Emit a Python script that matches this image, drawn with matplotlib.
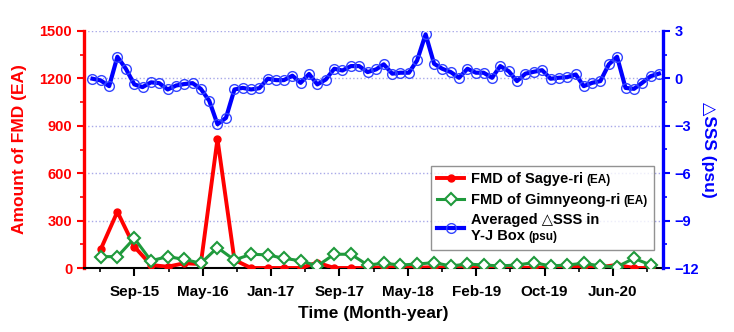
import pandas as pd
import matplotlib
matplotlib.use('Agg')
import matplotlib.pyplot as plt
from matplotlib.offsetbox import TextArea, HPacker, VPacker

plt.rcParams['font.family'] = ['Liberation Sans', 'DejaVu Sans']
plt.rcParams['font.weight'] = 'bold'
plt.rcParams['axes.labelweight'] = 'bold'

# monthly averaged dSSS in Y-J box (psu), Apr 2015 - Dec 2020
sss = [-0.02, -0.13, -0.49, 1.37, 0.61, -0.38, -0.55, -0.25, -0.30, -0.70,
       -0.45, -0.36, -0.30, -0.66, -1.42, -2.90, -2.50, -0.70, -0.60, -0.70,
       -0.62, -0.02, -0.11, -0.11, 0.17, -0.28, 0.28, -0.38, -0.07, 0.61,
       0.50, 0.78, 0.78, 0.40, 0.57, 0.89, 0.30, 0.36, 0.36, 1.14,
       2.79, 0.93, 0.61, 0.40, 0.04, 0.61, 0.36, 0.36, 0.04, 0.78,
       0.45, -0.17, 0.30, 0.42, 0.52, -0.02, 0.04, 0.08, 0.25, -0.49,
       -0.28, -0.17, 0.89, 1.37, -0.60, -0.66, -0.28, 0.14, 0.30]

# FMD counts (EA), every second month from May 2015
sagye = [118, 356, 135, 19, 8, 30, 25, 816, 51, 0,
         0, 0, 0, 34, 0, 0, 0, 5, 3, 2,
         5, 0, 0, 0, 0, 0, 3, 0, 5, 10,
         5, 20, 0, 0]
gimn = [72, 72, 188, 46, 72, 55, 30, 129, 51, 87,
        83, 61, 46, 13, 87, 87, 19, 30, 19, 25,
        34, 13, 25, 19, 13, 19, 34, 13, 19, 30,
        13, 8, 61, 19]

tick_labels = ['Sep-15', 'May-16', 'Jan-17', 'Sep-17', 'May-18', 'Feb-19', 'Oct-19', 'Jun-20']
legend_labels = ['FMD of Sagye-ri', 'FMD of Gimnyeong-ri', 'Averaged \u25b3SSS in\nY-J Box']
legend_units = ['(EA)', '(EA)', '(psu)']

months = pd.date_range('2015-04-01', periods=len(sss), freq='MS')
fmd_months = months[1::2]

red = '#ff0000'
blue = '#0000ff'
green = '#1f9a3c'

fig = plt.figure(figsize=(7.34, 3.32), dpi=100)
ax = fig.add_axes([84 / 734, 1 - 268 / 332, (663 - 84) / 734, (268 - 31) / 332])
ax2 = ax.twinx()

l1, = ax.plot(fmd_months, sagye, color=red, lw=2.8, marker='o', ms=5, mfc=red, mec=red, zorder=3)
l2, = ax.plot(fmd_months, gimn, color=green, lw=2.2, marker='D', ms=6, mfc='white', mec=green,
              mew=1.5, zorder=4)
l3, = ax2.plot(months, sss, color=blue, lw=3, marker='o', ms=7, mfc='none', mec='#3344ff', mew=1.0)

ax.set_ylim(0, 1500)
ax2.set_ylim(-12, 3)
ax.set_xlim(pd.Timestamp('2015-03-01'), pd.Timestamp('2020-12-16'))

ticks = pd.date_range('2015-09-01', periods=len(tick_labels), freq='250D')
ax.set_xticks(ticks)
ax.set_xticklabels(tick_labels)
minor = [t - pd.Timedelta(days=125) for t in ticks] + [ticks[-1] + pd.Timedelta(days=125)]
ax.set_xticks(minor, minor=True)

ax.set_yticks([0, 300, 600, 900, 1200, 1500])
ax.set_yticks(range(150, 1500, 300), minor=True)
ax2.set_yticks([-12, -9, -6, -3, 0, 3])
ax2.set_yticks([-10.5, -7.5, -4.5, -1.5, 1.5], minor=True)

ax.grid(axis='y', which='major', color='#a8a8e8', ls=':', lw=1)

for a in (ax, ax2):
    a.spines['top'].set_visible(False)
ax.spines['right'].set_visible(False)
ax.spines['left'].set_color(red)
ax.spines['left'].set_linewidth(2.4)
ax.spines['bottom'].set_linewidth(1.5)
ax2.spines['right'].set_color(blue)
ax2.spines['right'].set_linewidth(2.4)
ax2.spines['left'].set_visible(False)
ax2.spines['bottom'].set_visible(False)

ax.tick_params(axis='x', which='major', length=6, width=1.5, labelsize=11, pad=6)
ax.tick_params(axis='x', which='minor', length=3, width=1.2)
ax.tick_params(axis='y', which='major', length=5, width=1.5, colors=red, labelsize=10.5)
ax.tick_params(axis='y', which='minor', length=3, width=1.2, colors=red)
ax2.tick_params(axis='y', which='major', length=5, width=1.5, colors=blue, labelsize=10.5)
ax2.tick_params(axis='y', which='minor', length=3, width=1.2, colors=blue)

ax.set_xlabel('Time (Month-year)', fontsize=12.5, labelpad=5)
ax.set_ylabel('Amount of FMD (EA)', fontsize=12.5, color=red, labelpad=9)
ax2.set_ylabel('\u25b3SSS (psu)', fontsize=12.5, color=blue, rotation=270, labelpad=12)

leg = ax2.legend([l1, l2, l3], legend_labels, loc='upper left', bbox_to_anchor=(0.599, 0.432),
                 prop=dict(size=10.5, weight='bold'), frameon=True, fancybox=False,
                 edgecolor='#777777', handlelength=1.8, handletextpad=0.5, borderpad=0.45,
                 labelspacing=0.45, borderaxespad=0)
leg.get_frame().set_linewidth(1)

# rebuild legend label boxes so the unit tags come out smaller
big = dict(fontsize=10.5, fontweight='bold', color='black')
small = dict(fontsize=8.5, fontweight='bold', color='black')
items = [it for col in leg._legend_handle_box.get_children() for it in col.get_children()]
for it, lab, unit in zip(items, legend_labels, legend_units):
    lines = lab.split('\n')
    last = HPacker(children=[TextArea(lines[-1], textprops=big), TextArea(unit, textprops=small)],
                   sep=2.5, pad=0, align='baseline')
    if len(lines) > 1:
        box = VPacker(children=[TextArea(l, textprops=big) for l in lines[:-1]] + [last],
                      sep=1.5, pad=0, align='left')
        it.align = 'center'
    else:
        box = last
    box.set_figure(fig)
    it.get_children()[1] = box

fig.savefig('out.png', dpi=100)
